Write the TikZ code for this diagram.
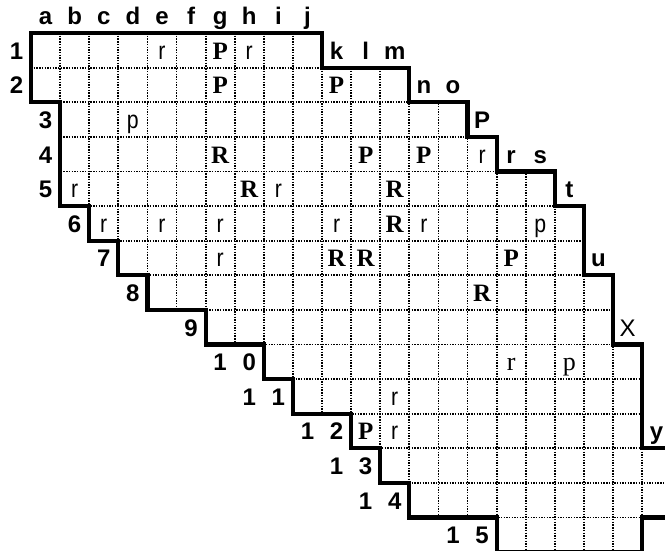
\documentclass[tikz,border=0pt]{standalone}
\usepackage{fontspec}
\setmainfont{Liberation Serif}
\newfontfamily\arialf{Liberation Sans}
\newfontfamily\narrowf[FakeStretch=0.85]{Liberation Sans}
\begin{document}
\begin{tikzpicture}[x=29.1pt,y=-34.6pt,
  gridline/.style={line width=1.8pt,dash pattern=on 1.4pt off 1.3pt,black},
  outline/.style={line width=4.2pt,line join=miter,line cap=rect,black},
  lbl/.style={font={\fontsize{24}{28}\arialf\bfseries\selectfont},inner sep=0pt,anchor=base},
  lblthin/.style={font={\fontsize{24}{28}\arialf\selectfont},inner sep=0pt,anchor=base},
  sansl/.style={font={\fontsize{25}{28}\narrowf\selectfont},inner sep=0pt,anchor=base},
  boldserif/.style={font={\fontsize{25}{28}\rmfamily\bfseries\selectfont},inner sep=0pt,anchor=base},
  serifl/.style={font={\fontsize{26}{28}\rmfamily\selectfont},inner sep=0pt,anchor=base}]
\useasboundingbox (-1.0653,-0.9538) rectangle (21.787,14.971);
% dotted grid inside the region
\begin{scope}
\clip (23,12) -- (21,12) -- (21,9) -- (20,9) -- (20,7) -- (19,7) -- (19,5) -- (18,5) -- (18,4) -- (16,4) -- (16,3) -- (15,3) -- (15,2) -- (13,2) -- (13,1) -- (10,1) -- (10,0) -- (0,0) -- (0,2) -- (1,2) -- (1,5) -- (2,5) -- (2,6) -- (3,6) -- (3,7) -- (4,7) -- (4,8) -- (6,8) -- (6,9) -- (8,9) -- (8,10) -- (9,10) -- (9,11) -- (11,11) -- (11,12) -- (12,12) -- (12,13) -- (13,13) -- (13,14) -- (16,14) -- (16,15) -- (21,15) -- (21,14) -- (23,14) -- cycle;
\foreach \j in {1,...,14} \draw[gridline] (0,\j) -- (23,\j);
\foreach \i in {1,...,22} \draw[gridline] (\i,0) -- (\i,15);
\end{scope}
% thick outline
\draw[outline] (21.787,12) -- (21,12) -- (21,9) -- (20,9) -- (20,7) -- (19,7) -- (19,5) -- (18,5) -- (18,4) -- (16,4) -- (16,3) -- (15,3) -- (15,2) -- (13,2) -- (13,1) -- (10,1) -- (10,0) -- (0,0) -- (0,2) -- (1,2) -- (1,5) -- (2,5) -- (2,6) -- (3,6) -- (3,7) -- (4,7) -- (4,8) -- (6,8) -- (6,9) -- (8,9) -- (8,10) -- (9,10) -- (9,11) -- (11,11) -- (11,12) -- (12,12) -- (12,13) -- (13,13) -- (13,14) -- (16,14) -- (16,15) -- (21,15) -- (21,14) -- (21.787,14);
% column header letters
\foreach \c/\r/\t in {1/0/a,2/0/b,3/0/c,4/0/d,5/0/e,6/0/f,7/0/g,8/0/h,9/0/i,10/0/j,
  11/1/k,12/1/l,13/1/m,14/2/n,15/2/o,16/3/P,17/4/r,18/4/s,19/5/t,20/7/u,22/12/y}
  \node[lbl] (h-\c) at (\c-0.5,\r-0.24) {\t};
\node[lblthin] (h-21) at (20.5,8.76) {X};
% row numbers (digits set cell by cell)
\foreach \c/\r/\t [count=\n] in {0/1/1,0/2/2,1/3/3,1/4/4,1/5/5,2/6/6,3/7/7,4/8/8,6/9/9,
  7/10/1,8/10/0,8/11/1,9/11/1,10/12/1,11/12/2,11/13/1,12/13/3,12/14/1,13/14/4,15/15/1,16/15/5}
  \node[lbl] (n-\n) at (\c-0.5,\r-0.24) {\t};
% sans letters in cells
\foreach \c/\r/\t [count=\n] in {5/1/r,8/1/r,4/3/p,16/4/r,2/5/r,9/5/r,3/6/r,5/6/r,7/6/r,11/6/r,
  14/6/r,18/6/p,7/7/r,13/11/r,13/12/r}
  \node[sansl] (s-\n) at (\c-0.5,\r-0.24) {\t};
% bold serif letters in cells
\foreach \c/\r/\t [count=\n] in {7/1/P,7/2/P,11/2/P,7/4/R,12/4/P,14/4/P,8/5/R,13/5/R,13/6/R,
  11/7/R,12/7/R,17/7/P,16/8/R,12/12/P}
  \node[boldserif] (b-\n) at (\c-0.5,\r-0.24) {\t};
% serif letters in cells
\node[serifl] (t-1) at (16.5,9.76) {r};
\node[serifl] (t-2) at (18.5,9.76) {p};
\end{tikzpicture}
\end{document}
